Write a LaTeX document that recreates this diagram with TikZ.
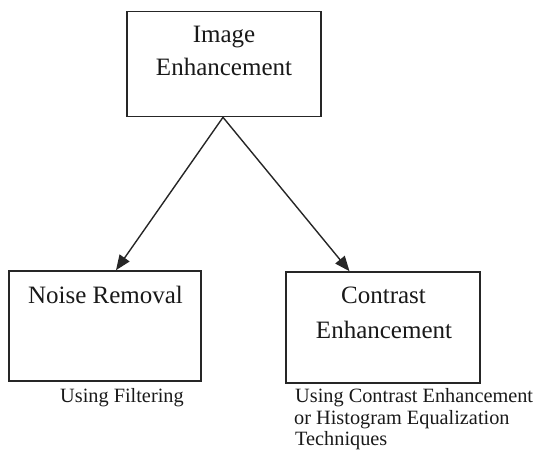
\documentclass[tikz,border=0pt]{standalone}
\usepackage{fontspec}
\setmainfont{Liberation Serif}
\usetikzlibrary{arrows.meta}
\begin{document}
\begin{tikzpicture}[x=1pt,y=-1pt,
  boxnode/.style={draw=black!85,line width=1.6pt,inner sep=0pt,fill=none},
  bigtext/.style={anchor=base,inner sep=0pt,font=\fontsize{25}{30}\selectfont,text=black!90},
  smalltext/.style={anchor=base west,inner sep=0pt,font=\fontsize{20.3}{22}\selectfont,text=black!90},
  conn/.style={draw=black!85,line width=1.4pt,-{Triangle[length=15pt,width=12pt]}}]
\useasboundingbox (0,0) rectangle (535,452);
\node[boxnode,minimum width=194pt,minimum height=105pt] (top) at (224,64) {};
\node[boxnode,minimum width=192pt,minimum height=110pt] (noise) at (105,326) {};
\node[boxnode,minimum width=194pt,minimum height=111pt] (contrast) at (383,327.5) {};
\node[bigtext] (t1) at (224,43) {Image};
\node[bigtext] (t2) at (224,75) {Enhancement};
\node[bigtext] (n1) at (105.5,303) {Noise Removal};
\node[bigtext] (c1) at (383.5,303) {Contrast};
\node[bigtext] (c2) at (384,338) {Enhancement};
\node[smalltext] (u1) at (60,402) {Using Filtering};
\node[smalltext] (u2) at (295,402) {Using Contrast Enhancement};
\node[smalltext] (u3) at (294,424) {or Histogram Equalization};
\node[smalltext] (u4) at (295,445) {Techniques};
\draw[conn] ([xshift=-1pt]top.south) -- ([xshift=11pt]noise.north);
\draw[conn] ([xshift=-1pt]top.south) -- ([xshift=-33.5pt]contrast.north);
\end{tikzpicture}
\end{document}
